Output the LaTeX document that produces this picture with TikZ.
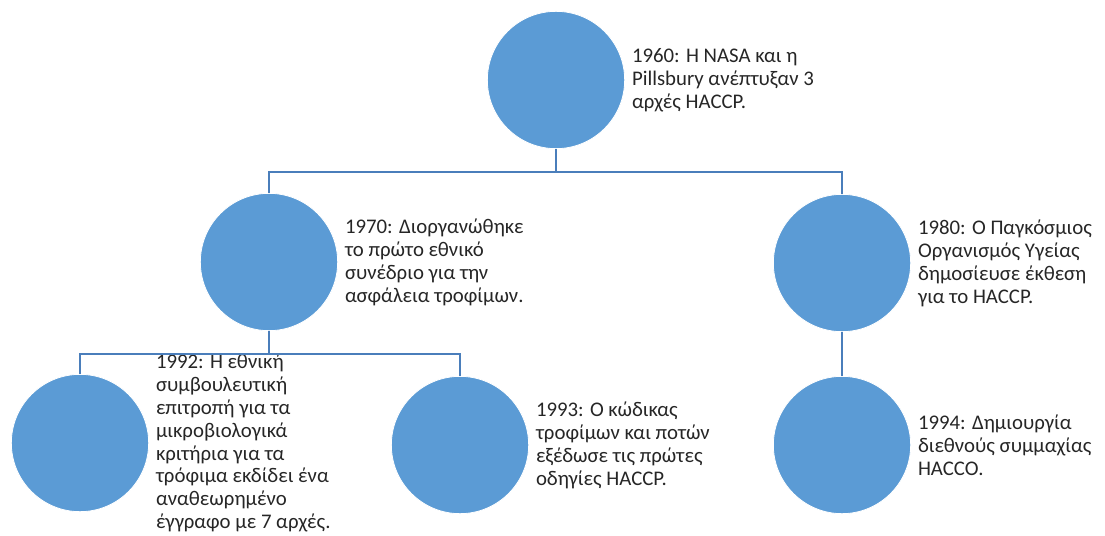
\documentclass[tikz,border=0pt]{standalone}
\usepackage{fontspec}
\setmainfont{Carlito}
\usepackage{xcolor}
\usetikzlibrary{positioning}
\definecolor{dotfill}{RGB}{91,155,213}
\definecolor{dotline}{RGB}{74,126,187}
\definecolor{notetext}{RGB}{38,38,38}
\tikzset{
  dot/.style={circle, fill=dotfill, draw=white, line width=0.6pt,
              minimum size=103pt, inner sep=0pt},
  note/.style={anchor=west, align=left, inner sep=0pt, text=notetext,
               font=\fontsize{15.6}{17.2}\selectfont},
  link/.style={draw=dotline, line width=1.5pt},
}
\begin{document}
\begin{tikzpicture}[x=0.75pt, y=-0.75pt]
\useasboundingbox (0,0) rectangle (1105,535);
% one circle per year, with its note set just right of it
\foreach \name/\x/\y/\txt in {%
  c1960/556/80/{1960: Η NASA και η\\Pillsbury ανέπτυξαν 3\\αρχές HACCP.},
  c1970/269/262/{1970: Διοργανώθηκε\\το πρώτο εθνικό\\συνέδριο για την\\ασφάλεια τροφίμων.},
  c1980/842/263/{1980: Ο Παγκόσμιος\\Οργανισμός Υγείας\\δημοσίευσε έκθεση\\για το HACCP.},
  c1992/80/443/{1992: Η εθνική\\συμβουλευτική\\επιτροπή για τα\\μικροβιολογικά\\κριτήρια για τα\\τρόφιμα εκδίδει ένα\\αναθεωρημένο\\έγγραφο με 7 αρχές.},
  c1993/460/445/{1993: Ο κώδικας\\τροφίμων και ποτών\\εξέδωσε τις πρώτες\\οδηγίες HACCP.},
  c1994/842/445/{1994: Δημιουργία\\διεθνούς συμμαχίας\\HACCO.}%
}{
  \node[dot] (\name) at (\x,\y) {};
  \node[note, right=5pt of \name] (t\name) {\txt};
}
% elbow connectors between the levels
\coordinate (bar1) at (c1960 |- 0,172);
\coordinate (bar2) at (c1970 |- 0,354);
\draw[link] (c1960.south) -- (bar1);
\draw[link] (c1970.north) |- (bar1) -| (c1980.north);
\draw[link] (c1970.south) -- (bar2);
\draw[link] (c1992.north) |- (bar2) -| (c1993.north);
\draw[link] (c1980.south) -- (c1994.north);
\end{tikzpicture}
\end{document}
